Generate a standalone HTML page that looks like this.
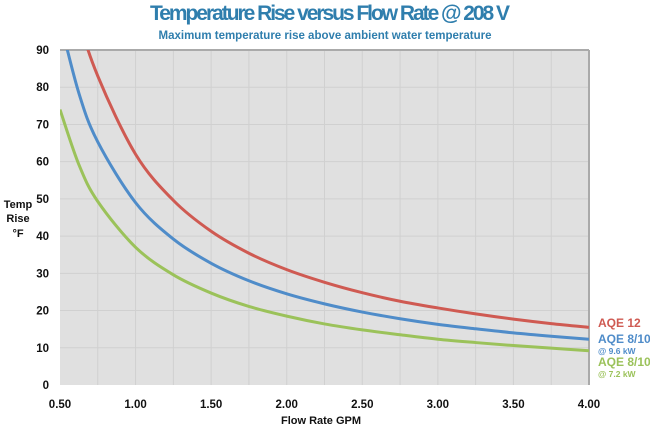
<!DOCTYPE html>
<html><head><meta charset="utf-8"><style>
body{margin:0;background:#fff;width:650px;height:430px;overflow:hidden;font-family:"Liberation Sans",sans-serif}
</style></head><body>
<svg width="650" height="430" xmlns="http://www.w3.org/2000/svg">
<text x="330" y="20" text-anchor="middle" font-size="21" font-weight="bold" fill="#2f7ead" font-family="Liberation Sans Narrow, Liberation Sans, sans-serif" textLength="360">Temperature Rise versus Flow Rate @ 208 V</text>
<text x="325" y="39" text-anchor="middle" font-size="11.5" font-weight="bold" fill="#2f7ead">Maximum temperature rise above ambient water temperature</text>
<rect x="60" y="50" width="529" height="335" fill="#e0e0e0"/>
<g id="grid"></g>
<line x1="60" y1="50" x2="589" y2="50" stroke="#aaa" stroke-width="2"/>
<line x1="589" y1="50" x2="589" y2="385" stroke="#aaa" stroke-width="2"/>
<g id="ticks"></g>
<g id="series"></g>
<g font-size="11" font-weight="bold" fill="#111" text-anchor="middle">
<text x="18" y="208">Temp</text><text x="18" y="222">Rise</text><text x="18" y="237">°F</text></g>
<text x="321" y="424" text-anchor="middle" font-size="11" font-weight="bold" fill="#111">Flow Rate GPM</text>
<g font-weight="bold">
<text x="598" y="327" font-size="12" fill="#cf5a52">AQE 12</text>
<text x="598" y="343" font-size="12" fill="#4f8cc9">AQE 8/10</text>
<text x="598" y="354" font-size="8.5" fill="#4f8cc9">@ 9.6 kW</text>
<text x="598" y="366" font-size="12" fill="#9bc25a">AQE 8/10</text>
<text x="598" y="377" font-size="8.5" fill="#9bc25a">@ 7.2 kW</text>
</g>
<defs><clipPath id="clip"><rect x="60" y="50" width="529" height="335"/></clipPath></defs>
</svg>
<script>
const flowRates=[0.5,0.625,0.75,1,1.25,1.5,1.75,2,2.25,2.5,2.75,3,3.25,3.5,3.75,4];
const aqe12=[124,99,83,62,49.6,41.3,35.4,31,27.6,24.8,22.5,20.7,19.1,17.7,16.5,15.5];
const aqe810_96=[98,78.4,65.3,49,39.2,32.7,28,24.5,21.8,19.6,17.8,16.3,15.1,14,13.1,12.3];
const aqe810_72=[74,59.2,49.3,37,29.6,24.7,21.1,18.5,16.4,14.8,13.5,12.3,11.4,10.6,9.9,9.2];
const xTicks=["0.50","1.00","1.50","2.00","2.50","3.00","3.50","4.00"];
const yTicks=[0,10,20,30,40,50,60,70,80,90];
const NS="http://www.w3.org/2000/svg";
const X=v=>60+(v-0.5)/3.5*529, Y=v=>385-v/90*335;
function mk(t,a,p){const e=document.createElementNS(NS,t);for(const k in a)e.setAttribute(k,a[k]);p.appendChild(e);return e;}
const grid=document.getElementById('grid'),ticks=document.getElementById('ticks'),ser=document.getElementById('series');
for(let v=0.75;v<4;v+=0.25){const l=mk('line',{x1:X(v),x2:X(v),y1:50,y2:385,stroke:'#d0d0d0','stroke-width':1},grid);

}
yTicks.forEach(v=>{if(v>0&&v<90){const l=mk('line',{x1:60,x2:589,y1:Y(v),y2:Y(v),stroke:'#d0d0d0','stroke-width':1},grid);

}
const t=mk('text',{x:49,y:Y(v)+4,'text-anchor':'end','font-size':11.5,'font-weight':'bold',fill:'#111'},ticks);t.textContent=v;

});
xTicks.forEach(s=>{const t=mk('text',{x:X(+s),y:408,'text-anchor':'middle','font-size':11.5,'font-weight':'bold',fill:'#111'},ticks);t.textContent=s;

});
function path(vals){const p=flowRates.map((x,i)=>[X(x),Y(vals[i])]);let d='M'+p[0][0]+','+p[0][1];
for(let i=0;i<p.length-1;i++){const p0=p[i-1]||p[i],p1=p[i],p2=p[i+1],p3=p[i+2]||p2;
d+=` C${p1[0]+(p2[0]-p0[0])/6},${p1[1]+(p2[1]-p0[1])/6} ${p2[0]-(p3[0]-p1[0])/6},${p2[1]-(p3[1]-p1[1])/6} ${p2[0]},${p2[1]}`;}return d;}
[[aqe810_72,'#9bc25a','series-aqe810-7.2kw'],[aqe810_96,'#4f8cc9','series-aqe810-9.6kw'],[aqe12,'#cf5a52','series-aqe12']].forEach(([v,c,n])=>{
const e=mk('path',{d:path(v),fill:'none',stroke:c,'stroke-width':3,'clip-path':'url(#clip)'},ser);

});
</script>
</body></html>
